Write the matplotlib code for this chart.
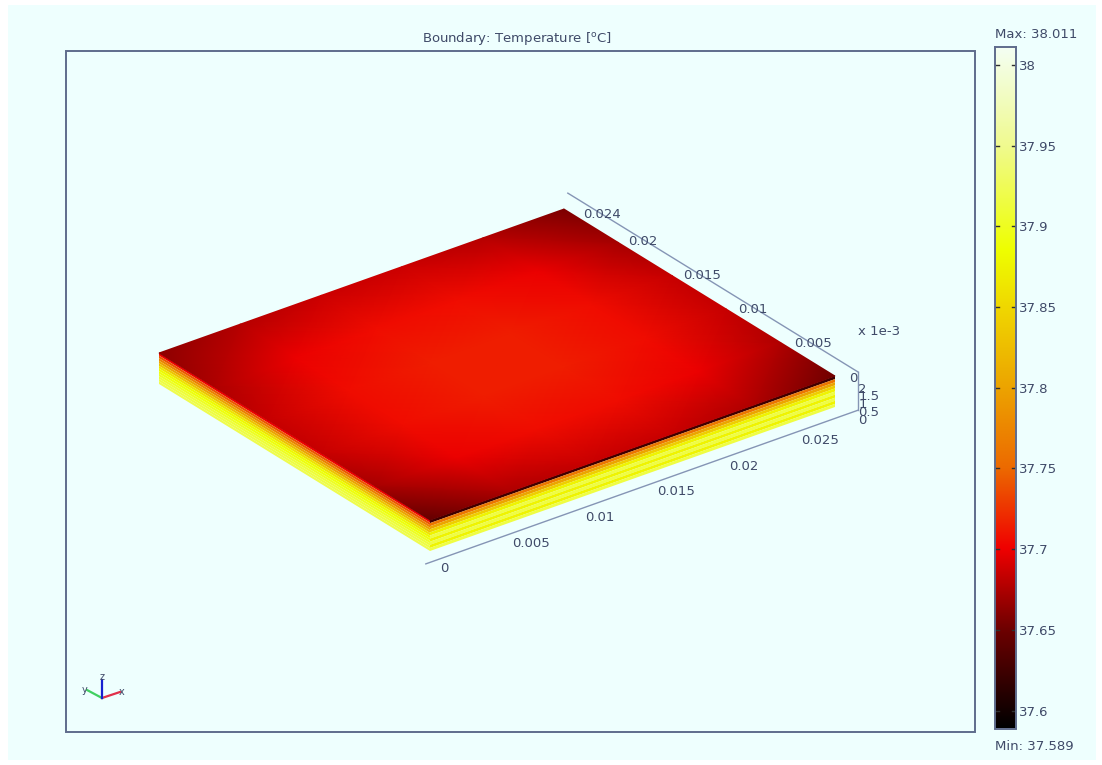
import matplotlib
matplotlib.use("Agg")
import matplotlib.pyplot as plt
import numpy as np
from matplotlib.colors import LinearSegmentedColormap, Normalize
from matplotlib.patches import Polygon, Rectangle

W, H = 1102, 765
BG = "#eefffe"
EDGE = "#5f6c8c"
TXT = "#3f4a68"
AXIS_COL = "#8595b5"

T_MIN = 37.589
T_MAX = 38.011
BAR_TICKS = [37.6, 37.65, 37.7, 37.75, 37.8, 37.85, 37.9, 37.95, 38]
BAR_LABELS = ["37.6", "37.65", "37.7", "37.75", "37.8", "37.85", "37.9", "37.95", "38"]

# colour stops
CMAP_T = [37.589, 37.65, 37.70, 37.75, 37.80, 37.85, 37.885, 37.95, 38.011]
CMAP_C = ["#000000", "#6e0000", "#f00000", "#ec6a00", "#eca400", "#f0d800",
          "#eeff00", "#f0fa90", "#f4fff4"]

# model size in metres, z in mm
X_SIZE = 0.028
Y_SIZE = 0.0245
Z_SIZE = 2.0

X_TICKS = [0, 0.005, 0.01, 0.015, 0.02, 0.025]
X_LABELS = ["0", "0.005", "0.01", "0.015", "0.02", "0.025"]
Y_TICKS = [0, 0.005, 0.01, 0.015, 0.02, 0.024]
Y_LABELS = ["0", "0.005", "0.01", "0.015", "0.02", "0.024"]
Z_TICKS = [0, 0.5, 1, 1.5, 2]
Z_LABELS = ["0", "0.5", "1", "1.5", "2"]

# top face temperatures, rows along y, columns along x
TOP_X = [0, 0.0056, 0.0112, 0.0168, 0.0224, 0.028]
TOP_Y = [0, 0.0049, 0.0098, 0.0147, 0.0196, 0.0245]
TOP_T = [
    [37.645, 37.675, 37.685, 37.685, 37.675, 37.650],
    [37.672, 37.698, 37.706, 37.706, 37.698, 37.675],
    [37.684, 37.706, 37.714, 37.714, 37.706, 37.684],
    [37.684, 37.706, 37.714, 37.714, 37.706, 37.684],
    [37.674, 37.698, 37.706, 37.706, 37.698, 37.672],
    [37.662, 37.678, 37.686, 37.686, 37.678, 37.655],
]

# side walls, layers from top to bottom
FRONT_LAYER_T = [37.625, 37.76, 37.80, 37.84, 37.875, 37.915, 37.875, 37.915, 37.875, 37.915]
LEFT_LAYER_T = [37.70, 37.74, 37.77, 37.80, 37.83, 37.86, 37.88, 37.89, 37.90, 37.91,
                37.915, 37.92]

# pixel position of the origin on the bottom plane and the axis directions
ORIGIN = np.array([430.0, 551.0])
X_DIR = np.array([405.0, -144.0]) / X_SIZE
Y_DIR = np.array([-271.0, -167.0]) / Y_SIZE
Z_DIR = np.array([0.0, -31.0]) / Z_SIZE

# axis box of the 3D scene
AX_X0, AX_X1 = -0.0011, 0.0288
AX_Y0, AX_Y1 = -0.00106, 0.0252
AX_Z1 = 2.45


def project(x, y, z):
    x, y, z = np.asarray(x), np.asarray(y), np.asarray(z)
    px = ORIGIN[0] + x * X_DIR[0] + y * Y_DIR[0] + z * Z_DIR[0]
    py = ORIGIN[1] + x * X_DIR[1] + y * Y_DIR[1] + z * Z_DIR[1]
    return px, py


def box(x0, y0, x1, y1):
    return [x0 / W, 1 - y1 / H, (x1 - x0) / W, (y1 - y0) / H]


cmap = LinearSegmentedColormap.from_list(
    "bar", [((t - T_MIN) / (T_MAX - T_MIN), c) for t, c in zip(CMAP_T, CMAP_C)], N=512)
norm = Normalize(T_MIN, T_MAX)

plt.rcParams["font.family"] = ["DejaVu Sans"]
plt.rcParams["font.size"] = 9.5

fig = plt.figure(figsize=(W / 100, H / 100), dpi=100, facecolor="white")
# whole picture axes, in pixels
ax = fig.add_axes([0, 0, 1, 1])
ax.set_xlim(0, W)
ax.set_ylim(H, 0)
ax.axis("off")
ax.add_patch(Rectangle((8, 5), W - 14, H - 10, fc=BG, ec="none", zorder=0))
ax.add_patch(Rectangle((66, 51), 909, 681, fc="none", ec=EDGE, lw=1.4, zorder=1))
ax.text(517, 38, "Boundary: Temperature [$^{\\mathrm{o}}$C]", ha="center", va="center",
        color=TXT, fontsize=9.5)

# top face
gx, gy = np.meshgrid(TOP_X, TOP_Y)
px, py = project(gx, gy, np.full(gx.shape, Z_SIZE))
ax.pcolormesh(px, py, np.array(TOP_T), cmap=cmap, norm=norm, shading="gouraud", zorder=3)


def draw_wall(layers, xs, ys):
    n = len(layers)
    for i, t in enumerate(layers):
        z1 = Z_SIZE * (1 - i / n)
        z0 = Z_SIZE * (1 - (i + 1) / n)
        corners = project(xs, ys, [z1, z1, z0, z0])
        ax.add_patch(Polygon(np.column_stack(corners), fc=cmap(norm(t)), ec="none", zorder=2))


# front wall (y = 0) and left wall (x = 0)
draw_wall(FRONT_LAYER_T, [0, X_SIZE, X_SIZE, 0], [0, 0, 0, 0])
draw_wall(LEFT_LAYER_T, [0, 0, 0, 0], [0, Y_SIZE, Y_SIZE, 0])

# axis lines, x at the bottom, y at the top of the box, z in the corner
lx, ly = project([AX_X0, AX_X1], [AX_Y0, AX_Y0], [0, 0])
ax.plot(lx, ly, color=AXIS_COL, lw=1, zorder=2)
lx, ly = project([AX_X1, AX_X1], [AX_Y0, AX_Y1], [AX_Z1, AX_Z1])
ax.plot(lx, ly, color=AXIS_COL, lw=1, zorder=2)
lx, ly = project([AX_X1, AX_X1], [AX_Y0, AX_Y0], [0, AX_Z1])
ax.plot(lx, ly, color=AXIS_COL, lw=1, zorder=2)

for v, s in zip(X_TICKS, X_LABELS):
    tx, ty = project(v, 0, 0)
    ax.text(tx + 10, ty + 18, s, ha="left", va="center", color=TXT, zorder=5)
for v, s in zip(Y_TICKS, Y_LABELS):
    tx, ty = project(X_SIZE, v, 0)
    ax.text(tx + 14, ty - 29, s, ha="left", va="center", color=TXT, zorder=5)
for v, s in zip(Z_TICKS, Z_LABELS):
    tx, ty = project(AX_X1, AX_Y0, v)
    ax.text(tx, ty + 10, s, ha="left", va="center", color=TXT, zorder=5)
ax.text(879, 331, "x 1e-3", ha="center", va="center", color=TXT)

# orientation triad
TRIAD = {"x": ((102, 698), (120, 692), "#e0304a"), "y": ((102, 698), (87, 690), "#40d060"),
         "z": ((102, 698), (102, 680), "#1820d0")}
for name, (p0, p1, col) in TRIAD.items():
    ax.plot([p0[0], p1[0]], [p0[1], p1[1]], color=col, lw=1.6, zorder=3)
ax.text(122, 692, "x", ha="center", va="center", color=TXT, fontsize=7)
ax.text(85, 690, "y", ha="center", va="center", color=TXT, fontsize=7)
ax.text(102, 677, "z", ha="center", va="center", color=TXT, fontsize=7)

ax.text(995, 34, "Max: 38.011", ha="left", va="center", color=TXT)
ax.text(995, 746, "Min: 37.589", ha="left", va="center", color=TXT)

# colour bar
cax = fig.add_axes(box(995, 47, 1016, 728.5))
grad = np.linspace(T_MIN, T_MAX, 512).reshape(-1, 1)
cax.imshow(grad, cmap=cmap, norm=norm, origin="lower", aspect="auto",
           extent=[0, 1, T_MIN, T_MAX])
cax.set_xticks([])
cax.set_yticks(BAR_TICKS)
cax.set_yticklabels(BAR_LABELS, color=TXT)
cax.yaxis.tick_right()
cax.tick_params(axis="y", length=0, pad=2)
for t in BAR_TICKS:
    cax.plot([0, 0.2], [t, t], color="#303030", lw=1)
    cax.plot([0.8, 1], [t, t], color="#303030", lw=1)
cax.set_xlim(0, 1)
cax.set_ylim(T_MIN, T_MAX)
for sp in cax.spines.values():
    sp.set_color(EDGE)
    sp.set_linewidth(1.4)

fig.savefig("out.png", dpi=100, facecolor="white")
